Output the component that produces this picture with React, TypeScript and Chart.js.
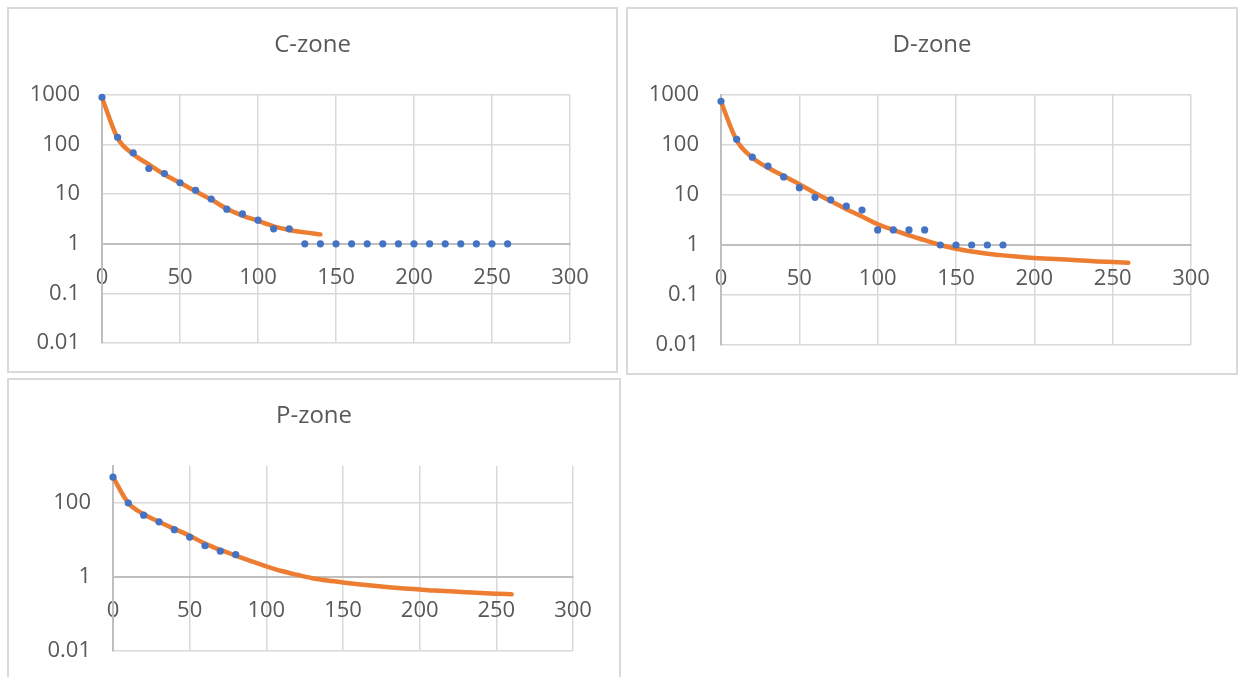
import React, { useEffect, useRef } from "react";
import { Chart, registerables } from "chart.js";

Chart.register(...registerables);

// ---------- data ----------
const cDotX = [0, 10, 20, 30, 40, 50, 60, 70, 80, 90, 100, 110, 120, 130, 140, 150, 160, 170, 180, 190, 200, 210, 220, 230, 240, 250, 260];
const cDotY = [900, 140, 68, 33, 26, 17, 12, 8, 5, 4, 3, 2, 2, 1, 1, 1, 1, 1, 1, 1, 1, 1, 1, 1, 1, 1, 1];
const cFitX = [0, 10, 20, 30, 40, 50, 60, 70, 80, 90, 100, 110, 120, 130, 140];
const cFitY = [880, 135, 64, 40, 25, 17, 11.5, 7.8, 5.1, 3.7, 2.9, 2.25, 1.9, 1.7, 1.55];

const dDotX = [0, 10, 20, 30, 40, 50, 60, 70, 80, 90, 100, 110, 120, 130, 140, 150, 160, 170, 180];
const dDotY = [750, 130, 57, 38, 23, 14, 9, 8, 6, 5, 2, 2, 2, 2, 1, 1, 1, 1, 1];
const dFitX = [0, 10, 20, 30, 40, 50, 60, 70, 80, 90, 100, 110, 120, 130, 140, 150, 160, 170, 180, 190, 200, 210, 220, 230, 240, 250, 260];
const dFitY = [730, 124, 56, 35, 24, 16.4, 11, 7.6, 5.2, 3.7, 2.6, 2.0, 1.56, 1.25, 1.0, 0.84, 0.74, 0.67, 0.62, 0.58, 0.55, 0.53, 0.51, 0.49, 0.47, 0.455, 0.44];

const pDotX = [0, 10, 20, 30, 40, 50, 60, 70, 80];
const pDotY = [500, 100, 47, 31, 19, 12, 7, 5, 4];
const pFitX = [0, 10, 20, 30, 40, 50, 60, 70, 80, 90, 100, 110, 120, 130, 140, 150, 160, 170, 180, 190, 200, 210, 220, 230, 240, 250, 260];
const pFitY = [500, 100, 50, 31, 20, 13, 8, 5.4, 3.8, 2.7, 1.95, 1.45, 1.15, 0.93, 0.8, 0.71, 0.64, 0.58, 0.53, 0.49, 0.46, 0.43, 0.41, 0.39, 0.37, 0.355, 0.34];

const xTicks = [0, 50, 100, 150, 200, 250, 300];
const xTickLabels = ["0", "50", "100", "150", "200", "250", "300"];
const yTicksFull = [0.01, 0.1, 1, 10, 100, 1000];
const yTickLabelsFull = ["0.01", "0.1", "1", "10", "100", "1000"];
const yTicksP = [0.01, 1, 100];
const yTickLabelsP = ["0.01", "1", "100"];

// ---------- styling ----------
const FONT = "'Open Sans', 'Noto Sans', sans-serif";
const TEXT = "#595959";
const GRID = "#d9d9d9";
const AXIS = "#bfbfbf";
const BLUE = "#4472C4";
const ORANGE = "#ED7D31";
const TICK_SIZE = 22;

type ZoneProps = {
  title: string;
  dotX: number[];
  dotY: number[];
  fitX: number[];
  fitY: number[];
  yTicks: number[];
  yLabels: string[];
  yMin: number;
  yMax: number;
  width: number;
  height: number;
  yAxisWidth: number;
  padRight: number;
  padBottom: number;
};

function ZoneChart(props: ZoneProps) {
  const ref = useRef<HTMLCanvasElement | null>(null);
  useEffect(() => {
    if (!ref.current) return;
    const toPts = (xs: number[], ys: number[]) => xs.map((x, i) => ({ x, y: ys[i] }));
    const chart = new Chart(ref.current, {
      type: "scatter",
      data: {
        datasets: [
          {
            label: "measured",
            data: toPts(props.dotX, props.dotY),
            showLine: false,
            pointRadius: 3.6,
            pointBackgroundColor: BLUE,
            pointBorderColor: BLUE,
            pointBorderWidth: 0,
            backgroundColor: BLUE,
            borderColor: BLUE,
            clip: false,
            order: 0,
          } as any,
          {
            label: "fit",
            data: toPts(props.fitX, props.fitY),
            showLine: true,
            borderColor: ORANGE,
            backgroundColor: ORANGE,
            borderWidth: 4.5,
            pointRadius: 0,
            cubicInterpolationMode: "monotone",
            borderCapStyle: "round",
            borderJoinStyle: "round",
            clip: false,
            order: 1,
          } as any,
        ],
      },
      options: {
        responsive: false,
        animation: false,
        devicePixelRatio: 1,
        layout: { padding: { left: 0, right: 0, top: 0, bottom: props.padBottom } },
        plugins: {
          legend: { display: false },
          tooltip: { enabled: false },
          title: {
            display: true,
            text: props.title,
            color: TEXT,
            font: { family: FONT, size: 24, weight: "normal" },
            padding: { top: 21.6, bottom: 35.6 },
          },
        },
        scales: {
          x: {
            type: "linear",
            min: 0,
            max: 300,
            position: { y: 1 } as any,
            afterBuildTicks: (s: any) => {
              s.ticks = xTicks.map((v) => ({ value: v }));
            },
            ticks: {
              autoSkip: false,
              maxRotation: 0,
              padding: 21,
              color: TEXT,
              font: { family: FONT, size: TICK_SIZE },
              callback: (_v: any, i: number) => xTickLabels[i],
            },
            grid: { color: GRID, lineWidth: 1.5, drawTicks: false },
            border: { color: AXIS, width: 2 },
          },
          y: {
            type: "logarithmic",
            min: props.yMin,
            max: props.yMax,
            position: "left",
            afterBuildTicks: (s: any) => {
              s.ticks = props.yTicks.map((v) => ({ value: v }));
            },
            afterFit: (s: any) => {
              s.width = props.yAxisWidth;
              s.paddingTop = 0;
              s.paddingBottom = 0;
            },
            ticks: {
              autoSkip: false,
              padding: 22,
              color: TEXT,
              font: { family: FONT, size: TICK_SIZE },
              callback: (_v: any, i: number) => props.yLabels[i],
            },
            grid: { color: GRID, lineWidth: 1.5, drawTicks: false },
            border: { color: AXIS, width: 2 },
          },
          spacer: {
            type: "linear",
            position: "right",
            display: true,
            ticks: { display: false },
            grid: { display: false, drawTicks: false },
            border: { display: false },
            afterFit: (s: any) => {
              s.width = props.padRight;
              s.paddingTop = 0;
              s.paddingBottom = 0;
            },
          },
        },
      } as any,
    });
    return () => chart.destroy();
  }, []);
  return <canvas ref={ref} width={props.width} height={props.height} style={{ display: "block", width: props.width, height: props.height }} />;
}

function Panel(p: { left: number; top: number; width: number; height: number; children: React.ReactNode }) {
  return (
    <div
      style={{
        position: "absolute",
        left: p.left,
        top: p.top,
        width: p.width,
        height: p.height,
        border: `2px solid ${GRID}`,
        boxSizing: "border-box",
        background: "#fff",
        overflow: "hidden",
      }}
    >
      {p.children}
    </div>
  );
}

export default function App() {
  return (
    <div style={{ position: "fixed", left: 0, top: 0, width: 1240, height: 677, overflow: "hidden", background: "#fff" }}>
      <Panel left={7} top={7} width={611} height={366}>
        <ZoneChart
          title="C-zone"
          dotX={cDotX}
          dotY={cDotY}
          fitX={cFitX}
          fitY={cFitY}
          yTicks={yTicksFull}
          yLabels={yTickLabelsFull}
          yMin={0.01}
          yMax={1000}
          width={607}
          height={362}
          yAxisWidth={93}
          padRight={46}
          padBottom={28}
        />
      </Panel>
      <Panel left={626} top={7} width={612} height={368}>
        <ZoneChart
          title="D-zone"
          dotX={dDotX}
          dotY={dDotY}
          fitX={dFitX}
          fitY={dFitY}
          yTicks={yTicksFull}
          yLabels={yTickLabelsFull}
          yMin={0.01}
          yMax={1000}
          width={608}
          height={364}
          yAxisWidth={93}
          padRight={45}
          padBottom={28}
        />
      </Panel>
      <Panel left={7} top={378} width={614} height={320}>
        <ZoneChart
          title="P-zone"
          dotX={pDotX}
          dotY={pDotY}
          fitX={pFitX}
          fitY={pFitY}
          yTicks={yTicksP}
          yLabels={yTickLabelsP}
          yMin={0.01}
          yMax={1000}
          width={610}
          height={297}
          yAxisWidth={104}
          padRight={46}
          padBottom={26}
        />
      </Panel>
    </div>
  );
}
